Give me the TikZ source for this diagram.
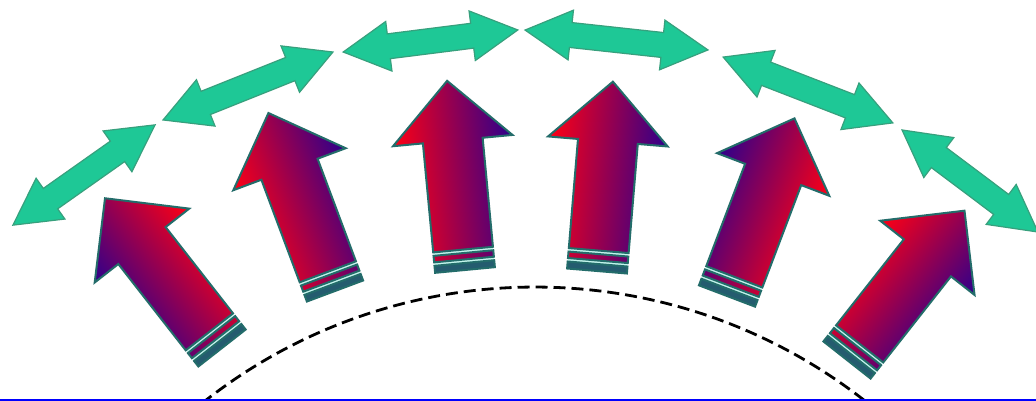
\documentclass[tikz,border=0pt]{standalone}
\usepackage{tikz}

\definecolor{arrowred}{RGB}{255,0,20}
\definecolor{arrowblue}{RGB}{45,0,140}
\definecolor{rimteal}{RGB}{35,108,106}
\definecolor{gapcyan}{RGB}{195,245,236}
\definecolor{mint}{RGB}{30,200,150}
\definecolor{mintrim}{RGB}{55,160,125}
\definecolor{baseblue}{RGB}{0,0,255}

\tikzset{
  arrowrim/.style={draw=rimteal, line width=2pt, line join=miter},
  gapfill/.style={fill=gapcyan},
  footstrip/.style={fill=rimteal!85!arrowblue, draw=rimteal, line width=2pt},
  twinarrow/.style={fill=mint, draw=mintrim, line width=1.2pt, line join=miter},
  orbit/.style={draw=black, line width=2.8pt, dash pattern=on 12pt off 6pt},
  baseline rule/.style={draw=baseblue, line width=1.6pt}
}

% striped block arrow: tail centre (#1,#2), turned by #3 degrees,
% shaded from #4 (left side) to #5 (right side)
\newcommand\stripedarrow[5]{%
  \begin{scope}[transform canvas={shift={(#1,#2)},rotate=#3}]
    \fill[gapfill] (-30,0) rectangle (30,20.5);
    \path[arrowrim, left color=#4, right color=#5]
      (-30,20.5) -- (-30,130) -- (-60,130) -- (0,190) -- (60,130) -- (30,130) -- (30,20.5) -- cycle
      (-30,10.5) rectangle (30,17);
    \path[footstrip] (-30,0) rectangle (30,7);
  \end{scope}}

% double-headed arrow: centre (#1,#2), turned by #3 degrees, total length #4
\newcommand\twinarrow[4]{%
  \begin{scope}[shift={(#1,#2)},rotate=#3]
    \path[twinarrow]
      (-#4/2,0) -- (-#4/2+46,25) -- (-#4/2+46,12.5) -- (#4/2-46,12.5) -- (#4/2-46,25)
      -- (#4/2,0) -- (#4/2-46,-25) -- (#4/2-46,-12.5) -- (-#4/2+46,-12.5) -- (-#4/2+46,-25) -- cycle;
  \end{scope}}

\begin{document}
\begin{tikzpicture}[x=1pt,y=1pt]
  \useasboundingbox (0,0) rectangle (1036,401);
  \fill[white] (0,0) rectangle (1036,401);
  \clip (0,0) rectangle (1036,401);

  % dashed orbit
  \draw[orbit] (535,-421) ++(128.5:535) arc[start angle=128.5, end angle=51.5, radius=535];

  % blue rule along the bottom edge
  \draw[baseline rule] (0,0.8) -- (1036,0.8);

  % outer ring of double-headed arrows
  \twinarrow{84}{226}{35.2}{174}
  \twinarrow{248}{315}{21.8}{183}
  \twinarrow{430.5}{360}{7.2}{176}
  \twinarrow{616.5}{361}{-6.2}{184}
  \twinarrow{808}{311}{-21.2}{182}
  \twinarrow{970}{220}{-36.9}{170}

  % inner fan of striped arrows
  \stripedarrow{222}{53}{38}{arrowblue}{arrowred}
  \stripedarrow{335}{110}{20.5}{arrowred}{arrowblue}
  \stripedarrow{465}{131}{5.4}{arrowred}{arrowblue}
  \stripedarrow{597}{130}{-4.8}{arrowred}{arrowblue}
  \stripedarrow{727}{105}{-20.8}{arrowblue}{arrowred}
  \stripedarrow{847}{41}{-38.2}{arrowred}{arrowblue}
\end{tikzpicture}
\end{document}
